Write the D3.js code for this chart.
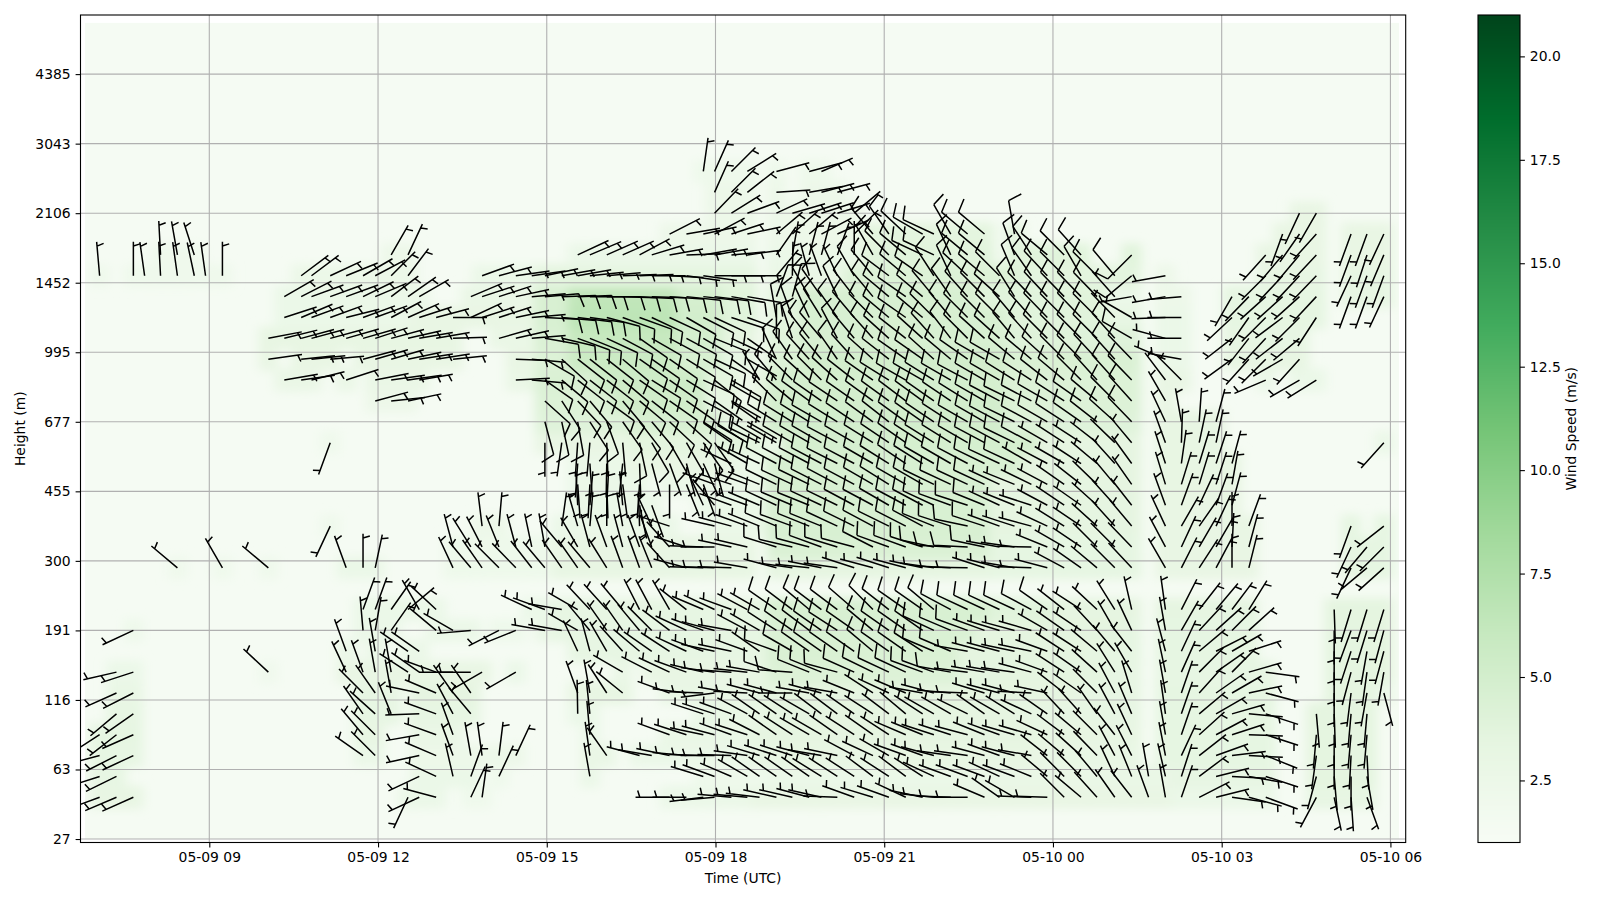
<!DOCTYPE html>
<html><head><meta charset="utf-8">
<script src="https://cdnjs.cloudflare.com/ajax/libs/d3/7.8.5/d3.min.js"></script>
<style>html,body{margin:0;background:#fff}svg{display:block}text{font-family:"DejaVu Sans",sans-serif;font-size:13.9px;fill:#000}</style>
</head><body><svg id="c" width="1600" height="900"></svg>
<script>
// observation times, minutes after 05-09 09:00 UTC
const columnMinutes=[-117,-99,-81,-69,-52,-34,-16,-4,14,32,49,63,80,98,109,129,146,164,177,194,212,224,242,260,279,291,309,327,344,358,376,393,406,424,441,459,472,491,509,527,539,557,574,587,605,622,640,653,670,688,708,725,743,761,773,791,809,827,843,859,877,894,912,930,947,966,984,1002,1020,1037,1056,1074,1091,1109,1127,1145,1163,1181,1200,1218,1235,1253];
const yTickLevels=[0,10,20,30,40,50,60,70,80,90,100,110];
const yTickLabels=[27,63,116,191,300,455,677,995,1452,2106,3043,4385];
const xTickMinutes=[0,180,360,540,720,900,1080,1260];
const colorbarTicks=[2.5,5,7.5,10,12.5,15,17.5,20];
const greensStops=["#f7fcf5","#e5f5e0","#c7e9c0","#a1d99b","#74c476","#41ab5d","#238b45","#006d2c","#00441b"];
// barb levels (index into the height list); one barb row every third level
const barbLevels=[6,9,12,15,18,21,24,27,30,33,36,39,42,45,48,51,54,57,60,63,66,69,72,75,78,81,84,87,90,93,96];
// per level: [first column, directions (deg, where the staff points), speeds as value,count pairs]
const barbRuns=[
/*0*/[[0,[250,247,246],[3.5,3]],[20,[205,245,285],[3,3]],[24,[25,8],[2.5,2]],[37,[270,270,263,265,275,275,277,283,283,285,283,272,290,287,290,295,282,276,272,270,293,305,300,272,272,315,310,318,325,322,340,350,19,63,76,98,105,110],[3,6,3.4,26,3,6]],[77,[208,168,176,160],[3.6,4]]],
/*1*/[[0,[252,244],[3.6,2]],[21,[245,295,347,20],[3,4]],[26,[25],[2.5,1]],[32,[350],[3,1]],[39,[287,290,293,300,305,305,305,305,302,303,303,307,303,307,303,295,290,290,290,295,290,292,310,315,315,320,335,338,350,347,18,53,76,93,100,108],[2.6,5,3,12,3.2,13,3.6,6]],[77,[195,175,180,170],[3.9,4]]],
/*2*/[[0,[255,243,245],[3.6,3]],[17,[305,315],[3,2]],[21,[258,293,340,350,352,7,25],[2.8,7]],[32,[352,325],[3.2,2]],[35,[285,280,282,275,272,270,272,278,287,288,288,285,280,282,298,295,300,290,290,285,278,278,285,290,285,280,308,310,312,316,332,333,null,349,25,52,70,83,93,112],[3,8,3.5,18,3.3,7,3.7,7]],[77,[188,180,183,177],[3.9,4]]],
/*3*/[[0,[237,232,246],[3.7,3]],[17,[320,315],[3.5,2]],[21,[260,290,340],[3.2,3]],[32,[355],[3,1]],[37,[290,288,282,285,290,288,297,305,303,300,300,305,303,305,303,293,292,288,288,285,292,290,286,286,295,307,310,315,322,335,null,350,19,48,62,72,92,108],[3.2,6,3.8,18,3.5,6,3.7,8]],[77,[185,180,185,185],[3.9,4]]],
/*4*/[[1,[230,235],[3.6,2]],[17,[325,312,338],[3.6,3]],[21,[268,290,332,320],[3.6,4]],[31,[359,354],[3,2]],[39,[288,288,290,298,305,305,303,300,307,307,305,303,307,310,303,300,300,296,305,300,302,295,305,317,318,325,332,337,null,352,19,50,60,74,95,108],[3.3,5,3.8,16,3.6,8,3.7,7]],[77,[175,178,185,185],[3.9,4]]],
/*5*/[[1,[246,243],[3.3,2]],[17,[315,325,350],[3.6,3]],[21,[282,293,325,325],[3.8,4]],[31,[340,350,327,309],[3.5,4]],[37,[290,277,272,263,280,273,285,285,270,280,285,280,292,303,295,293,280,285,275,272,287,285,285,273,282,308,305,315,332,343,null,350,19,42,55,60,78,105],[3.3,6,3.8,20,3.6,4,3.7,8]],[78,[180,187,190,165],[3.9,3,3,1]]],
/*6*/[[1,[257,252],[3,2]],[11,[313],[2.4,1]],[16,[335,340,350,350,303,305,290,270,270,240],[3.4,10]],[27,[240],[3,1]],[34,[300],[3.2,1]],[36,[297,295,290,283,278,274,276,280,288,274,292,292,285,294,296,295,295,290,290,280,277,280,280,278,285,290,303,305,312,328,330,null,348,24,45,55,45,74,98],[3.4,8,4.6,12,3.9,9,3.6,10]],[78,[180,195,188,190],[3.9,4]]],
/*7*/[[16,[340],[3,1]],[18,[350],[3,1]],[20,[305,305],[3,2]],[31,[335,345,330,318,310,305],[3.6,6]],[37,[303,295,290,282,282,290,305,290,300,305,305,305,305,310,305,305,303,293,293,280,285,285,282,282,290,303,303,310,320,322,null,345,25,50,63,60,72],[3.6,7,4.8,12,3.9,8,3.7,10]],[78,[180,198,190,195],[3.9,4]]],
/*8*/[[2,[245],[2.6,1]],[17,[355,10,35],[3,3]],[22,[310,300,265],[3,3]],[26,[243,248],[2.6,2]],[29,[280,280,300,320,325,325,320,315,307,295,290,285,280,298,300,303,305,307,305,303,305,310,305,305,305,295,293,290,290,287,285,286,300,305,304,317,330,335,null,350,30,43,48,45,48],[3.2,1,3.6,14,4.8,13,3.9,9,3.7,8]],[78,[180,200,197,195],[3.9,4]]],
/*9*/[[17,[20,20,35,50,330,313],[3,6]],[28,[295,290,280,300,317,318,320,333,332,330,308,293,295,290,298,300,305,307,310,307,307,311,315,308,305,305,310,298,295,295,295,295,298,305,308,303,313,328,347,null,352,27,38,40,37,32],[3,2,3.6,14,5,14,4.2,4,3.8,12]],[78,[178,197,197,197],[3.9,4]]],
/*10*/[],
/*11*/[[5,[310],[2.5,1]],[8,[330],[2.5,1]],[11,[310],[2.5,1]],[16,[340,0,12],[3,3]],[23,[335,320,325,315,316,322,320,325,325,320,328,340,340,338,318,285,272,272,272,280],[2.6,7,3.5,13]],[44,[285,278,276,281,278,288,285,288,285,282,278,273,271,288,285,280,272,285,298,305,310,315,317,null,330,27,33,28,0,14],[3.8,14,3.7,10,3.4,6]],[79,[205,230,228],[3.7,3]]],
/*12*/[[23,[345,328,333,338,345,348,350,320,330,345,340,345,340,340,318,288,272,270,282,283],[2.6,7,3.4,13]],[44,[287,283,285,290,287,285,297,290,290,288,282,273,273,282,280,278,271,292,300,304,315,315,316,null,332,25,30,30,3,15],[4.8,14,3.7,10,3.4,6]],[79,[205,220,225],[3.7,3]]],
/*13*/[[15,[205],[2.5,1]],[25,[353,5],[2.8,2]],[30,[8,344,5,0,350,358,335,288],[3,8]],[40,[283,285,290,292,293,290,292,292,295,296,298,296,297,298,292,288,282,288,290,288,285,295,302,304,312,318,320,null,335,30,35,25,0,20],[3,4,5,14,3.8,9,3.4,7]],[79,[200,null,232],[3.7,3]]],
/*14*/[[31,[357,5,3,355,168,160],[3,6]],[39,[335,320,290,290,293,295,293,292,295,296,298,298,300,298,298,295,290,288,292,295,292,288,298,304,305,312,318,322,null,340,20,25,20,15],[3,5,5,14,3.8,9,3.4,6]]],
/*15*/[[31,[176,183,178,172,184],[3,5]],[37,[180,158,160,290,288,290,292,296,295,296,297,298,298,300,302,300,300,296,295,295,295,295,292,296,298,305,308,314,320,325,null,343,17,17,18,10],[3,7,5,14,3.8,9,3.5,6]]],
/*16*/[[31,[184,176,181,186,178,165,160,165,155,165,295,300,295,298,298,298,298,297,298,300,302,304,302,300,300,298,296,295,295,300,298,300,303,310,318,324,null,342,8,17,18,15],[3,4,3.4,7,3,2,5,16,3.8,8,3.5,6]]],
/*17*/[[15,[200],[2.5,1]],[29,[180,188,184,185,178,175,168,150,150,150,145,145,305,300,296,300,300,300,300,298,300,302,304,305,303,302,302,300,298,298,296,298,300,303,303,308,314,320,null,340,2,12,12],[3.4,6,4,9,3,1,5.2,16,3.8,7,3.5,4]],[81,[222],[3,1]]],
/*18*/[[29,[165,168,170,147,160,145,142,140,133,132,123,123,120,120],[4.4,6,5,6,3.6,2]],[43,[305,302,302,302,300,302,304,306,308,306,305,304,303,300,300,298,296,298,300,303,305,308,312,316,null,335,350,4,15],[3.4,1,5.4,15,4.4,8,3.5,5]]],
/*19*/[[18,[75,84,78],[2.8,3]],[29,[132,147,137,140,126,140,130,128,125,125,118,125,120],[4.6,5,5.6,6,3.6,2]],[43,[300,315,310,306,305,304,305,306,306,307,306,305,304,302,300,298,296,298,300,303,305,310,315,318,null,330],[3.4,1,5.4,15,4.6,8,3.4,2]]],
/*20*/[[12,[80,82,76,null,72,null,79,82,82,80],[3.2,10]],[27,[87,95],[3.2,2]],[29,[125,130,128,128,128,130,125,122,125,122,115,128,120],[4.8,4,5.8,7,4,2]],[43,[330,320,315,312,315,312,308,305,302,300,300,302,300,298,300,300,302,303,308,310,315,318,318,316,null,323,315],[3.4,1,5.2,15,4.6,8,3.4,3]],[74,[247,null,240,238],[3,4]]],
/*21*/[[11,[82,null,84,84,85,null,75,74,74,78,81,81,84],[3.4,13]],[27,[92,95],[3.4,2]],[29,[120,132,128,128,128,130,125,125,125,122,120,115,125,120],[4.6,2,6,7,5,3,3.6,2]],[44,[335,325,318,320,325,318,312,308,305,305,312,310,305,300,300,310,310,312,315,315,317,318,316],[4.6,2,5.4,13,4.8,8]],[68,[293,280],[3,2]],[72,[234,222,225,240,222],[3.5,5]]],
/*22*/[[11,[79,76,75,75,75,74,74,72,75,77,80,80,88],[3.5,13]],[26,[74,77,85],[3.2,3]],[29,[100,103,110,112,115,118,125,120,118,118,120,112,115,125],[4.8,2,6.4,7,5.2,3,3.8,2]],[44,[0,342,322,320,332,320,318,312,308,312,318,322,315,312,312,320,318,315,315,315,315,318,300],[4.2,2,5,13,4.4,8]],[68,[285,270],[3,2]],[72,[232,218,223,232,230],[3.6,5]]],
/*23*/[[12,[72,67,70,70,76,70,70,62,66,72,75,90,65,72,72,78,85],[3,9,3.4,8]],[29,[93,95,97,98,105,110,110,115,115,120,117,115,108,110],[5,2,7,7,5.4,3,4.2,2]],[44,[350,340,335,328,325,320,315,310,305,310,315,320,315,315,315,320,318,316,315,316,315,316,300],[4,2,5,13,4.2,6,3.6,2]],[68,[268,270],[3,2]],[72,[227,215,225,233,225,213],[3.7,6]]],
/*24*/[[12,[60,63,70,70,70,64,67,53,55,60],[3,10]],[24,[67,72,72,78,85],[3.2,5]],[29,[85,88,88,90,90,92,93,92,94,96,96,97,100,100],[5,2,6.8,7,5.2,3,4.2,2]],[44,[20,15,330,325,335,322,320,310,305,310,320,325,318,315,312,328,316,317,316,316,316,318,260],[4,2,5,11,4.2,8,3,2]],[68,[260,265],[2.8,2]],[72,[210,224,228,228,228,223],[3.7,6]],[79,[200,200,205],[3.6,3]]],
/*25*/[[0,[355],[2.5,1]],[2,[360,352,357,352,348,352,360],[2.5,7]],[13,[53,53,65,68,60,62,45,37],[2.9,8]],[25,[70,75,82,82],[3,4]],[29,[78,80,80,84,85,88,88,90,93,98,98,90,90,90],[3.9,14]],[44,[40,1,345,340,335,330,320,307,310,305,327,335,313,310,315,337,325,317,315,330,315,320,230],[3.2,5,4.6,11,4,7]],[68,[260],[2.8,1]],[74,[225,223,223,224],[3.6,4]],[79,[205,200,200],[3.6,3]]],
/*26*/[[4,[357,350,342],[2.5,3]],[19,[30,25],[2.8,2]],[31,[65,67,66,66,62,73,80,88,80,80,85,82],[3,12]],[44,[35,10,15,15,20,0,330,315,310,295,295,335,310,310,null,340,327,310,315,318,null,null,225],[3,6,4.2,17]],[74,[222,220,220,223],[3.4,4]],[79,[200,198,203],[3.4,3]]],
/*27*/[[37,[63,80,78,62,72,78],[2.8,6]],[44,[50,48,50,62,66,45,320,325,313,300,295,330,310,310,null,350],[2.8,6,4,10]],[75,[200,215,222],[3.4,3]],[79,[200,200,205],[3.4,3]]],
/*28*/[[40,[44,58,70,null,65,74,72,72,73,50],[2.8,10]],[76,[205,210],[3.4,2]]],
/*29*/[[40,[24,45,52,null,86,null,80,75,75],[2.8,9]]],
/*30*/[[39,[8,24,45,58,null,75,null,75,67],[2.6,9]]]
];

const W=1600,H=900,L=80.5,R=1405.7,T=15,B=842.5;
const svg=d3.select("#c");
const base=Date.UTC(2024,4,9,9);
const tm=m=>new Date(base+m*60000);
const x=d3.scaleUtc().domain([tm(-137.4),tm(1276.3)]).range([L,R]);
const y=d3.scaleLinear().domain([-0.5,118.5]).range([B,T]);
const vmin=1,vmax=21;
const color=d3.scaleLinear().domain(greensStops.map((_,i)=>vmin+i*(vmax-vmin)/8)).range(greensStops).clamp(true);

const barbs=[];
barbRuns.forEach((runs,k)=>runs.forEach(([c0,dirs,pairs])=>{
  const sp=[];for(let i=0;i<pairs.length;i+=2)for(let n=0;n<pairs[i+1];n++)sp.push(pairs[i]);
  dirs.forEach((d,i)=>{ if(d===null)return;
    barbs.push({col:c0+i,level:barbLevels[k],dir:d,speed:sp[Math.min(i,sp.length-1)]});});
}));

const defs=svg.append("defs");
defs.append("clipPath").attr("id","ax").append("rect").attr("x",L).attr("y",T).attr("width",R-L).attr("height",B-T);
const meshX0=85,meshX1=1399,meshY0=y(117.4),meshY1=y(0);
defs.append("clipPath").attr("id","mesh").append("rect").attr("x",meshX0).attr("y",meshY0).attr("width",meshX1-meshX0).attr("height",meshY1-meshY0);
defs.append("filter").attr("id","soft").attr("filterUnits","userSpaceOnUse").attr("x",0).attr("y",0).attr("width",W).attr("height",H)
  .append("feGaussianBlur").attr("stdDeviation","5.5 5");

// heat layer
const heatClip=svg.append("g").attr("clip-path","url(#mesh)");
heatClip.append("rect").attr("x",meshX0).attr("y",meshY0).attr("width",meshX1-meshX0).attr("height",meshY1-meshY0).attr("fill",color(1.25));
heatClip.append("g").attr("filter","url(#soft)").selectAll("rect").data(barbs).join("rect")
  .attr("x",d=>x(tm(columnMinutes[d.col]))-10).attr("y",d=>y(d.level)-11.5).attr("width",20).attr("height",23)
  .attr("fill",d=>color(d.speed-0.4));

// grid
const grid=svg.append("g").attr("stroke","#b0b0b0").attr("stroke-width",1.1);
grid.selectAll("line.v").data(xTickMinutes).join("line").attr("class","v").attr("x1",d=>x(tm(d))).attr("x2",d=>x(tm(d))).attr("y1",T).attr("y2",B);
grid.selectAll("line.h").data(yTickLevels).join("line").attr("class","h").attr("x1",L).attr("x2",R).attr("y1",d=>y(d)).attr("y2",d=>y(d));

// barbs
const LEN=34,FULLH=13.6,FULLW=4.25,SPACE=4.25;
function barbPath(d){
  const bx=x(tm(columnMinutes[d.col])),by=y(d.level),a=d.dir*Math.PI/180;
  const ux=Math.sin(a),uy=-Math.cos(a),rx=-uy,ry=ux;
  const tx=bx+ux*LEN,ty=by+uy*LEN;
  let p=`M${bx},${by}L${tx},${ty}`;
  if(d.speed>=4){p+=`M${tx},${ty}L${tx+rx*FULLH+ux*FULLW},${ty+ry*FULLH+uy*FULLW}`;}
  else{const sx=tx-ux*SPACE,sy=ty-uy*SPACE;p+=`M${sx},${sy}L${sx+rx*FULLH/2+ux*FULLW/2},${sy+ry*FULLH/2+uy*FULLW/2}`;}
  return p;
}
svg.append("g").attr("clip-path","url(#ax)").selectAll("path").data(barbs).join("path")
  .attr("d",barbPath).attr("fill","none").attr("stroke","#000").attr("stroke-width",1.5);

// axes
const styleAxis=g=>{g.select(".domain").remove();g.selectAll(".tick line").attr("stroke","#000").attr("stroke-width",1.1);
  g.selectAll(".tick text").style("font-family",'"DejaVu Sans",sans-serif').style("font-size","13.9px").attr("fill","#000");};
svg.append("g").attr("transform",`translate(0,${B})`).call(d3.axisBottom(x).tickValues(xTickMinutes.map(tm)).tickFormat(d3.utcFormat("%m-%d %H")).tickSize(4.9).tickPadding(4.9)).call(styleAxis);
svg.append("g").attr("transform",`translate(${L},0)`).call(d3.axisLeft(y).tickValues(yTickLevels).tickFormat((d,i)=>yTickLabels[i]).tickSize(4.9).tickPadding(4.9)).call(styleAxis);
svg.append("rect").attr("x",L).attr("y",T).attr("width",R-L).attr("height",B-T).attr("fill","none").attr("stroke","#000").attr("stroke-width",1.1);
svg.append("text").attr("x",(L+R)/2).attr("y",883).attr("text-anchor","middle").text("Time (UTC)");
svg.append("text").attr("transform",`translate(24.5,${(T+B)/2}) rotate(-90)`).attr("text-anchor","middle").text("Height (m)");

// colorbar
const CL=1478,CR=1520;
const cy=d3.scaleLinear().domain([vmin,vmax]).range([B,T]);
const cpix=d3.range(Math.floor(T),Math.ceil(B));
svg.append("g").attr("shape-rendering","crispEdges").selectAll("rect").data(cpix).join("rect").attr("x",CL).attr("width",CR-CL)
  .attr("y",d=>d).attr("height",1).attr("fill",d=>color(cy.invert(d+0.5)));
svg.append("rect").attr("x",CL).attr("y",T).attr("width",CR-CL).attr("height",B-T).attr("fill","none").attr("stroke","#000").attr("stroke-width",1.1);
svg.append("g").attr("transform",`translate(${CR},0)`).call(d3.axisRight(cy).tickValues(colorbarTicks).tickFormat(d3.format(".1f")).tickSize(4.9).tickPadding(4.9)).call(styleAxis);
svg.append("text").attr("transform",`translate(1576,${(T+B)/2}) rotate(-90)`).attr("text-anchor","middle").text("Wind Speed (m/s)");
</script></body></html>
